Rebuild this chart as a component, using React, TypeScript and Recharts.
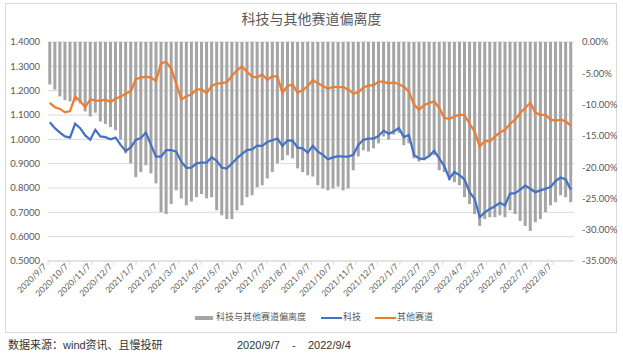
import React from 'react';
import { ComposedChart, Bar, Line, XAxis, YAxis, CartesianGrid } from 'recharts';

// ---- data (weekly readings, week starting Monday) ----
const START = '2020/9/7';
const END = '2022/9/4';

// 科技 (blue line, left axis)
const tech = [
  1.07, 1.046, 1.028, 1.012, 1.007, 1.064, 1.046, 1.016, 0.998, 1.039,
  1.012, 1.009, 1.0, 1.007, 0.977, 0.952, 0.967, 0.998, 1.005, 1.028,
  0.977, 0.929, 0.929, 0.956, 0.956, 0.949, 0.908, 0.883, 0.884, 0.901,
  0.904, 0.904, 0.926, 0.912, 0.884, 0.88, 0.901, 0.922, 0.94, 0.956,
  0.959, 0.974, 0.973, 0.989, 0.996, 1.003, 0.973, 0.996, 0.995, 0.966,
  0.963, 0.945, 0.973, 0.949, 0.936, 0.918, 0.926, 0.931, 0.929, 0.929,
  0.936, 0.977, 0.998, 1.003, 1.003, 1.014, 1.036, 1.023, 1.032, 1.046,
  1.009, 1.018, 0.936, 0.922, 0.919, 0.931, 0.953, 0.922, 0.89, 0.839,
  0.866, 0.853, 0.835, 0.783, 0.756, 0.68, 0.7, 0.714, 0.725, 0.739,
  0.728, 0.777, 0.779, 0.793, 0.81, 0.797, 0.783, 0.79, 0.797, 0.804,
  0.829, 0.843, 0.835, 0.793,
];

// 其他赛道 (orange line, left axis)
const others = [
  1.15, 1.132, 1.125, 1.111, 1.116, 1.175, 1.157, 1.132, 1.164, 1.16,
  1.158, 1.164, 1.153, 1.168, 1.175, 1.188, 1.197, 1.247, 1.254, 1.258,
  1.254, 1.24, 1.313, 1.318, 1.291, 1.229, 1.164, 1.177, 1.184, 1.205,
  1.205, 1.191, 1.219, 1.229, 1.231, 1.235, 1.26, 1.284, 1.299, 1.277,
  1.258, 1.254, 1.267, 1.244, 1.26, 1.258, 1.191, 1.219, 1.226, 1.191,
  1.202, 1.219, 1.244, 1.23, 1.219, 1.208, 1.216, 1.215, 1.215, 1.205,
  1.188, 1.194, 1.212, 1.222, 1.222, 1.237, 1.237, 1.229, 1.235, 1.226,
  1.216, 1.196, 1.143, 1.122, 1.14, 1.15, 1.155, 1.129, 1.088, 1.084,
  1.094, 1.101, 1.099, 1.064, 1.032, 0.97, 0.994, 0.992, 1.011, 1.028,
  1.039, 1.063, 1.081, 1.108, 1.129, 1.15, 1.11, 1.101, 1.101, 1.081,
  1.077, 1.081, 1.074, 1.056,
];

// 科技与其他赛道偏离度 (grey bars, right axis, %)
const deviation = [
  -6.8, -7.6, -8.7, -9.3, -9.5, -9.5, -9.8, -11.1, -11.9, -11.3,
  -12.7, -13.1, -13.6, -14.1, -15.6, -17.8, -19.4, -21.6, -20.8, -19.7,
  -21.0, -22.6, -27.2, -27.5, -25.9, -23.7, -25.0, -26.1, -25.5, -24.8,
  -24.3, -25.0, -24.8, -26.9, -27.7, -28.3, -28.3, -26.9, -26.1, -24.8,
  -24.5, -23.2, -22.9, -21.8, -20.8, -19.4, -18.9, -18.1, -18.6, -20.2,
  -20.8, -21.3, -21.5, -22.9, -23.4, -23.7, -23.4, -23.1, -23.7, -23.4,
  -20.5, -18.3, -17.3, -17.5, -17.0, -16.2, -15.1, -15.6, -14.8, -14.5,
  -16.5, -16.2, -18.6, -19.1, -18.9, -18.3, -18.1, -20.5, -20.8, -22.1,
  -22.4, -22.9, -24.8, -25.9, -27.5, -29.4, -28.3, -28.0, -28.0, -27.7,
  -28.0, -26.9, -27.5, -28.6, -29.4, -30.2, -28.8, -28.3, -27.2, -26.1,
  -25.6, -24.5, -24.8, -25.6,
];

const xTickLabels = [
  '2020/9/7', '2020/10/7', '2020/11/7', '2020/12/7', '2021/1/7', '2021/2/7',
  '2021/3/7', '2021/4/7', '2021/5/7', '2021/6/7', '2021/7/7', '2021/8/7',
  '2021/9/7', '2021/10/7', '2021/11/7', '2021/12/7', '2022/1/7', '2022/2/7',
  '2022/3/7', '2022/4/7', '2022/5/7', '2022/6/7', '2022/7/7', '2022/8/7',
];
const leftTicks = [0.5, 0.6, 0.7, 0.8, 0.9, 1.0, 1.1, 1.2, 1.3, 1.4];
const rightTicks = [-35, -30, -25, -20, -15, -10, -5, 0];

// ---- helpers ----
const toDay = (s: string) => {
  const [y, m, d] = s.split('/').map(Number);
  return Date.UTC(y, m - 1, d) / 86400000;
};
const BASE = toDay(START);
const SPAN = toDay(END) - BASE + 1;
const xTicks = xTickLabels.map((s) => toDay(s) - BASE);

// each week: Mon..Fri trading days occupy days 7k..7k+5, centre at 7k+2.5
const data = tech.map((t, i) => ({
  x: i * 7 + 2.5,
  tech: t,
  others: others[i],
  dev: deviation[i],
}));

const NUM_FONT = "Lato, 'Noto Sans CJK SC', sans-serif";
const CJK_FONT = "'Noto Sans CJK SC', sans-serif";
const LABEL = '#595959';

const XTick = (props: any) => {
  const { x, y, payload } = props;
  const idx = xTicks.indexOf(payload.value);
  const ax = x - 3;
  const ay = y - 2;
  return (
    <text
      x={ax}
      y={ay}
      dy="0.35em"
      transform={`rotate(-45 ${ax} ${ay})`}
      textAnchor="end"
      fontSize={8.5}
      fill={LABEL}
      fontFamily={NUM_FONT}
    >
      {idx >= 0 ? xTickLabels[idx] : ''}
    </text>
  );
};

export default function App() {
  return (
    <div
      style={{
        position: 'absolute',
        left: 0,
        top: 0,
        width: 623,
        height: 358,
        background: '#fff',
        overflow: 'hidden',
      }}
    >
      <div
        style={{
          position: 'absolute',
          left: 5,
          top: 3,
          width: 612,
          height: 330,
          border: '1px solid #d9d9d9',
          boxSizing: 'border-box',
        }}
      />
      <div
        style={{
          position: 'absolute',
          left: 0,
          top: 9,
          width: 623,
          textAlign: 'center',
          fontFamily: CJK_FONT,
          fontSize: 14,
          color: LABEL,
          lineHeight: '18px',
        }}
      >
        科技与其他赛道偏离度
      </div>
      <div style={{ position: 'absolute', left: 0, top: 0 }}>
        <ComposedChart
          width={623}
          height={335}
          data={data}
          margin={{ top: 42, right: 0, bottom: 0, left: 0 }}
        >
          <CartesianGrid
            yAxisId="left"
            xAxisId="x"
            vertical={false}
            stroke="#d9d9d9"
            strokeWidth={1}
          />
          <XAxis
            xAxisId="x"
            type="number"
            dataKey="x"
            domain={[0, SPAN]}
            ticks={xTicks}
            interval={0}
            tick={<XTick />}
            height={74}
            stroke="#d9d9d9"
            tickSize={4}
            allowDataOverflow
          />
          <YAxis
            yAxisId="left"
            orientation="left"
            domain={[0.5, 1.4]}
            ticks={leftTicks}
            interval={0}
            tickFormatter={(v: number) => v.toFixed(4)}
            axisLine={false}
            tickLine={false}
            width={48}
            tick={{ fill: LABEL, fontSize: 9.5, fontFamily: NUM_FONT }}
            allowDataOverflow
          />
          <YAxis
            yAxisId="right"
            orientation="right"
            domain={[-35, 0]}
            ticks={rightTicks}
            interval={0}
            tickFormatter={(v: number) => `${v.toFixed(2)}%`}
            axisLine={false}
            tickLine={false}
            width={49}
            tick={{ fill: LABEL, fontSize: 9.5, fontFamily: NUM_FONT, textAnchor: 'start' }}
            allowDataOverflow
          />
          <Bar
            xAxisId="x"
            yAxisId="right"
            dataKey="dev"
            fill="#a5a5a5"
            barSize={3}
            isAnimationActive={false}
          />
          <Line
            xAxisId="x"
            yAxisId="left"
            dataKey="tech"
            type="linear"
            stroke="#4472c4"
            strokeWidth={2.25}
            dot={false}
            activeDot={false}
            isAnimationActive={false}
          />
          <Line
            xAxisId="x"
            yAxisId="left"
            dataKey="others"
            type="linear"
            stroke="#ed7d31"
            strokeWidth={2.25}
            dot={false}
            activeDot={false}
            isAnimationActive={false}
          />
        </ComposedChart>
      </div>
      {/* legend */}
      <div
        style={{
          position: 'absolute',
          top: 310,
          left: 0,
          width: 623,
          height: 14,
          fontFamily: CJK_FONT,
          fontSize: 9,
          color: LABEL,
        }}
      >
        <span style={{ position: 'absolute', left: 195, top: 6, width: 18, height: 4, background: '#a5a5a5' }} />
        <span style={{ position: 'absolute', left: 216, top: 0, lineHeight: '14px' }}>科技与其他赛道偏离度</span>
        <span style={{ position: 'absolute', left: 321, top: 7, width: 21, height: 2, background: '#4472c4' }} />
        <span style={{ position: 'absolute', left: 343, top: 0, lineHeight: '14px' }}>科技</span>
        <span style={{ position: 'absolute', left: 375, top: 7, width: 21, height: 2, background: '#ed7d31' }} />
        <span style={{ position: 'absolute', left: 397, top: 0, lineHeight: '14px' }}>其他赛道</span>
      </div>
      {/* footer */}
      <div
        style={{
          position: 'absolute',
          left: 8,
          top: 337,
          fontFamily: "'Liberation Sans', 'Noto Sans CJK SC', sans-serif",
          fontSize: 11,
          color: '#333',
          lineHeight: '16px',
          whiteSpace: 'nowrap',
        }}
      >
        数据来源：wind资讯、且慢投研
      </div>
      <div
        style={{
          position: 'absolute',
          left: 237,
          top: 337,
          fontFamily: "'Liberation Sans', sans-serif",
          fontSize: 11,
          color: '#333',
          lineHeight: '16px',
          whiteSpace: 'pre',
        }}
      >
        {`${START}    -    ${END}`}
      </div>
    </div>
  );
}
